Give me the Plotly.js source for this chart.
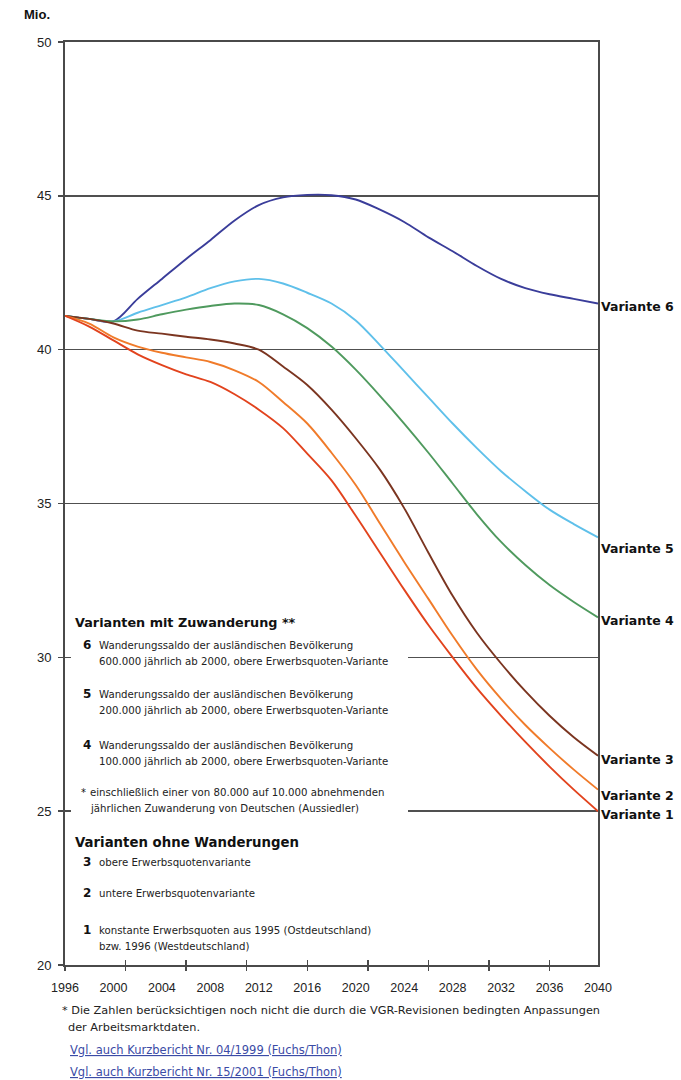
<!DOCTYPE html>
<html>
<head>
<meta charset="utf-8">
<script src="https://cdn.plot.ly/plotly-3.0.1.min.js"></script>
<style>html,body{margin:0;padding:0;background:#fff;}#chart{width:681px;height:1080px;}</style>
</head>
<body>
<div id="chart"></div>
<script>
// ---- data ----
var years = [1996,1998,2000,2002,2004,2006,2008,2010,2012,2014,2016,2018,2020,2022,2024,2026,2028,2030,2032,2034,2036,2038,2040];
var variante6 = [41.1,41.0,40.92,41.65,42.3,42.95,43.56,44.2,44.7,44.95,45.03,45.02,44.88,44.55,44.15,43.65,43.2,42.72,42.3,42.0,41.8,41.65,41.5];
var variante5 = [41.1,41.0,40.92,41.2,41.45,41.7,42.0,42.22,42.3,42.15,41.85,41.5,40.95,40.15,39.3,38.45,37.6,36.8,36.05,35.4,34.8,34.33,33.9];
var variante4 = [41.1,41.0,40.92,40.98,41.15,41.3,41.42,41.5,41.45,41.15,40.7,40.1,39.35,38.5,37.6,36.65,35.65,34.65,33.75,33.0,32.35,31.8,31.3];
var variante3 = [41.1,41.0,40.85,40.62,40.52,40.42,40.33,40.2,40.0,39.45,38.85,38.05,37.12,36.1,34.85,33.4,32.0,30.8,29.8,28.9,28.1,27.4,26.8];
var variante2 = [41.1,40.85,40.4,40.1,39.9,39.75,39.6,39.33,38.95,38.3,37.6,36.65,35.6,34.35,33.1,31.9,30.7,29.6,28.65,27.8,27.05,26.35,25.7];
var variante1 = [41.1,40.75,40.3,39.85,39.5,39.2,38.95,38.55,38.05,37.45,36.62,35.75,34.6,33.4,32.2,31.05,30.0,29.0,28.1,27.25,26.45,25.7,25.0];
var seriesNames = ["Variante 6","Variante 5","Variante 4","Variante 3","Variante 2","Variante 1"];
var seriesData = [variante6,variante5,variante4,variante3,variante2,variante1];
var seriesColors = ["#3a3d9a","#5fc0ea","#4f9a5e","#7b3520","#f07b2a","#e2431d"];
var labelShift = [-3,-11,-3,-4,-6,-3];
var xTickYears = [1996,2000,2004,2008,2012,2016,2020,2024,2028,2032,2036,2040];
var yTickVals = [20,25,30,35,40,45,50];

// legend text (reference wording)
var legendHead1 = "Varianten mit Zuwanderung **";
var legendHead2 = "Varianten ohne Wanderungen";
var legendItems = [
  {num:"6", lines:["Wanderungssaldo der ausländischen Bevölkerung","600.000 jährlich ab 2000, obere Erwerbsquoten-Variante"], y:645},
  {num:"5", lines:["Wanderungssaldo der ausländischen Bevölkerung","200.000 jährlich ab 2000, obere Erwerbsquoten-Variante"], y:694},
  {num:"4", lines:["Wanderungssaldo der ausländischen Bevölkerung","100.000 jährlich ab 2000, obere Erwerbsquoten-Variante"], y:745},
  {num:"*", lines:["einschließlich einer von 80.000 auf 10.000 abnehmenden","jährlichen Zuwanderung von Deutschen (Aussiedler)"], y:792},
  {num:"3", lines:["obere Erwerbsquotenvariante"], y:862},
  {num:"2", lines:["untere Erwerbsquotenvariante"], y:893},
  {num:"1", lines:["konstante Erwerbsquoten aus 1995 (Ostdeutschland)","bzw. 1996 (Westdeutschland)"], y:930}
];
var footnote = ["* Die Zahlen berücksichtigen noch nicht die durch die VGR-Revisionen bedingten Anpassungen","der Arbeitsmarktdaten."];
var links = ["Vgl. auch Kurzbericht Nr. 04/1999 (Fuchs/Thon)","Vgl. auch Kurzbericht Nr. 15/2001 (Fuchs/Thon)"];

// ---- layout helpers (pixel -> paper) ----
var L = 65, R = 598, T = 42, B = 965;
function px(x){ return (x - L) / (R - L); }
function py(y){ return (B - y) / (B - T); }

var FONT = "Liberation Sans, Arial, sans-serif";
var TFONT = "DejaVu Sans, Verdana, sans-serif";
var traces = seriesData.map(function(d,i){
  return {x: years, y: d, type: "scatter", mode: "lines", name: seriesNames[i],
    line: {color: seriesColors[i], width: 1.9, shape: "spline", smoothing: 0.9},
    hoverinfo: "skip", showlegend: false, xaxis: "x", yaxis: "y"};
});
// helper traces to carry the crossing tick axes
traces.push({x:[1996,2040], y:[20,20], type:"scatter", mode:"none", xaxis:"x2", yaxis:"y2", showlegend:false, hoverinfo:"skip"});
traces.push({x:[1996,2040], y:[20,20], type:"scatter", mode:"none", xaxis:"x3", yaxis:"y3", showlegend:false, hoverinfo:"skip"});

var ann = [];
ann.push({xref:"paper", yref:"paper", x:px(22), y:py(14), xanchor:"left", yanchor:"middle", showarrow:false,
  text:"<b>Mio.</b>", font:{family:FONT, size:13, color:"#111"}});
seriesData.forEach(function(d,i){
  ann.push({xref:"x", yref:"y", x:years[years.length-1], y:d[d.length-1], xanchor:"left", yanchor:"middle",
    xshift:1, yshift:labelShift[i], showarrow:false, text:"<b>"+seriesNames[i]+"</b>",
    font:{family:TFONT, size:12.5, color:"#111"}});
});
ann.push({xref:"paper", yref:"paper", x:px(73), y:py(622), xanchor:"left", yanchor:"middle", showarrow:false,
  text:"<b>"+legendHead1+"</b>", font:{family:TFONT, size:12.8, color:"#111"}});
ann.push({xref:"paper", yref:"paper", x:px(73), y:py(842), xanchor:"left", yanchor:"middle", showarrow:false,
  text:"<b>"+legendHead2+"</b>", font:{family:TFONT, size:13.3, color:"#111"}});
legendItems.forEach(function(it){
  var isStar = it.num === "*";
  ann.push({xref:"paper", yref:"paper", x:px(isStar?79:81), y:py(it.y), xanchor:"left", yanchor:"middle", showarrow:false,
    text: isStar ? "*" : "<b>"+it.num+"</b>", font:{family:TFONT, size: isStar?10:12, color:"#111"}});
  it.lines.forEach(function(line,j){
    ann.push({xref:"paper", yref:"paper", x:px(isStar?88:97), y:py(it.y + j*16), xanchor:"left", yanchor:"middle", showarrow:false,
      text: line, font:{family:TFONT, size:10.2, color:"#222"}});
  });
});
footnote.forEach(function(line,j){
  ann.push({xref:"paper", yref:"paper", x:px(j===0?60:66), y:py(1010 + j*17), xanchor:"left", yanchor:"middle", showarrow:false,
    text: line, font:{family:TFONT, size:11.3, color:"#222"}});
});
links.forEach(function(line,j){
  ann.push({xref:"paper", yref:"paper", x:px(68), y:py(1050 + j*22), xanchor:"left", yanchor:"middle", showarrow:false,
    text: "<u>"+line+"</u>", font:{family:TFONT, size:11.5, color:"#3b4ba6"}});
});

var axisColor = "#4a4a4a";
var layout = {
  width: 681, height: 1080,
  margin: {l: L, r: 681 - R, t: T, b: 1080 - B, pad: 0},
  paper_bgcolor: "#fff", plot_bgcolor: "#fff",
  showlegend: false,
  font: {family: FONT, color: "#222"},
  xaxis: {range:[1996,2040], tickmode:"array", tickvals:xTickYears, ticktext:xTickYears.map(String),
    ticks:"", showgrid:false, zeroline:false, showline:true, linecolor:axisColor, linewidth:2, mirror:true,
    tickfont:{family:FONT, size:12.5, color:"#222"}, ticklabelstandoff:10, fixedrange:true},
  yaxis: {range:[20,50], tickmode:"array", tickvals:yTickVals, ticktext:yTickVals.map(String),
    ticks:"outside", ticklen:5, tickcolor:axisColor, tickwidth:1.5,
    showgrid:true, gridcolor:"#505050", gridwidth:1.6, zeroline:false, showline:true, linecolor:axisColor, linewidth:2, mirror:true,
    tickfont:{family:FONT, size:13, color:"#222"}, ticklabelstandoff:4, fixedrange:true},
  xaxis2: {range:[1996,2040], overlaying:"x", anchor:"y2", side:"bottom", tickmode:"linear", tick0:1996, dtick:5,
    ticks:"outside", ticklen:5, tickwidth:1.5, tickcolor:axisColor, showticklabels:false, showgrid:false, zeroline:false, showline:false},
  yaxis2: {range:[20,50], overlaying:"y", anchor:"x2", showticklabels:false, ticks:"", showgrid:false, zeroline:false, showline:false},
  xaxis3: {range:[1996,2040], overlaying:"x", anchor:"y3", side:"bottom", tickmode:"linear", tick0:1996, dtick:5,
    ticks:"inside", ticklen:5, tickwidth:1.5, tickcolor:axisColor, showticklabels:false, showgrid:false, zeroline:false, showline:false},
  yaxis3: {range:[20,50], overlaying:"y", anchor:"x3", tickmode:"array", tickvals:yTickVals, showticklabels:false,
    ticks:"inside", ticklen:5, tickwidth:1.5, tickcolor:axisColor, showgrid:false, zeroline:false, showline:false},
  shapes: [
    {type:"rect", xref:"paper", yref:"paper", x0:px(71), x1:px(408), y0:py(958), y1:py(605),
     fillcolor:"#ffffff", line:{width:0}, layer:"above"}
  ],
  annotations: ann
};

Plotly.newPlot("chart", traces, layout, {staticPlot:true, displayModeBar:false});
</script>
</body>
</html>
